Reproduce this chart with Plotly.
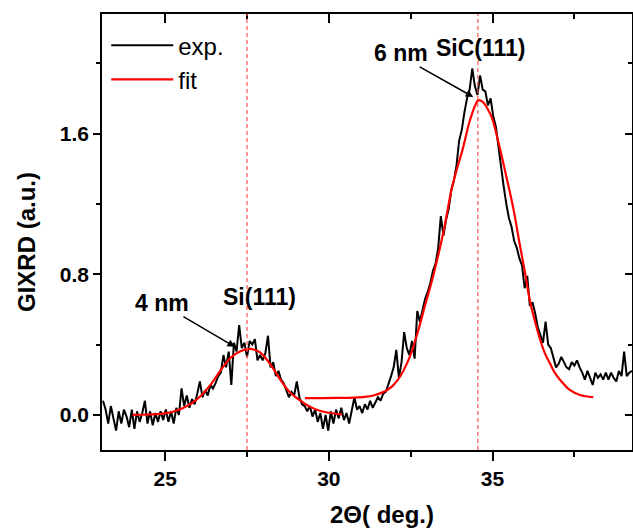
import plotly.graph_objects as go

# ---------------- data ----------------
# experimental scan: start angle, step, intensities (read from picture)
scan_start = 23.10
scan_step = 0.08
exp_intensity = [
    0.08, 0.03, -0.05, 0.05, -0.02, -0.09, 0.02, -0.05, 0.03, -0.01,
    -0.07, 0.03, -0.08, 0.02, -0.04, 0.01, 0.08, -0.05, 0.02, -0.06,
    0.01, -0.04, 0.02, -0.03, 0.03, -0.04, 0.02, -0.05, 0.04, 0.00,
    0.15, 0.05, 0.11, 0.04, 0.09, 0.06, 0.12, 0.19, 0.10, 0.14,
    0.11, 0.17, 0.15, 0.18, 0.22, 0.24, 0.34, 0.27, 0.36, 0.17,
    0.41, 0.36, 0.51, 0.38, 0.41, 0.33, 0.42, 0.40, 0.43, 0.31,
    0.34, 0.31, 0.35, 0.45, 0.27, 0.30, 0.22, 0.25, 0.20, 0.18,
    0.14, 0.10, 0.13, 0.11, 0.19, 0.10, 0.06, 0.05, 0.02, 0.05,
    -0.01, 0.03, -0.04, 0.01, -0.08, 0.00, -0.09, 0.02, -0.05, 0.03,
    -0.02, 0.04, -0.03, 0.01, -0.05, 0.02, 0.10, 0.03, 0.05, 0.01,
    0.06, 0.03, 0.08, 0.04, 0.07, 0.10, 0.08, 0.12, 0.13, 0.17,
    0.22, 0.27, 0.37, 0.21, 0.30, 0.47, 0.38, 0.34, 0.42, 0.32,
    0.59, 0.53, 0.60, 0.66, 0.70, 0.75, 0.82, 0.86, 0.95, 1.13,
    1.02, 1.11, 1.17, 1.28, 1.33, 1.42, 1.56, 1.62, 1.72, 1.80,
    1.85, 1.97, 1.87, 1.82, 1.93, 1.85, 1.84, 1.76, 1.80, 1.70,
    1.64, 1.52, 1.42, 1.30, 1.20, 1.12, 1.07, 0.99, 0.95, 0.89,
    0.85, 0.72, 0.79, 0.62, 0.64, 0.58, 0.50, 0.45, 0.41, 0.53,
    0.40, 0.38, 0.33, 0.27, 0.29, 0.33, 0.30, 0.27, 0.26, 0.30,
    0.28, 0.31, 0.27, 0.24, 0.20, 0.25, 0.21, 0.17, 0.24, 0.21,
    0.23, 0.20, 0.24, 0.20, 0.24, 0.21, 0.19, 0.25, 0.22, 0.36,
    0.22, 0.24, 0.25,
]
exp_angle = [round(scan_start + scan_step * i, 2) for i in range(len(exp_intensity))]

# Si(111) fit curve
fit_si_angle = [24.0, 24.5, 25.0, 25.5, 25.8, 26.1, 26.4, 26.7, 27.0, 27.3,
                27.6, 27.9, 28.2, 28.5, 28.8, 29.1, 29.4, 29.7, 30.0, 30.4]
fit_si_value = [0.0, 0.002, 0.008, 0.035, 0.065, 0.11, 0.175, 0.255, 0.325, 0.362,
                0.375, 0.355, 0.29, 0.205, 0.13, 0.085, 0.048, 0.025, 0.012, 0.003]

# SiC(111) fit curve
fit_sic_angle = [29.27, 29.8, 30.3, 30.75, 31.1, 31.36, 31.6, 31.77, 31.95, 32.07,
                 32.2, 32.38, 32.55, 32.73, 32.95, 33.2, 33.5, 33.77, 34.1, 34.3,
                 34.47, 34.57, 34.7, 34.85, 34.98, 35.18, 35.44, 35.64, 35.84, 36.0,
                 36.15, 36.3, 36.45, 36.6, 36.76, 36.9, 37.06, 37.37, 37.67, 38.08]
fit_sic_value = [0.095, 0.095, 0.096, 0.098, 0.102, 0.11, 0.125, 0.14, 0.165, 0.19,
                 0.225, 0.29, 0.37, 0.48, 0.63, 0.80, 1.04, 1.30, 1.52, 1.67,
                 1.76, 1.79, 1.78, 1.74, 1.69, 1.55, 1.34, 1.17, 0.96, 0.80,
                 0.64, 0.53, 0.43, 0.35, 0.29, 0.24, 0.20, 0.14, 0.113, 0.10]

peak_positions = [27.5, 34.55]

x_ticks = [25, 30, 35]
x_minor = [27.5, 32.5, 37.5]
y_ticks = [0.0, 0.8, 1.6]
y_minor = [0.4, 1.2, 2.0]
y_tick_text = ["0.0", "0.8", "1.6"]

FONT = "Liberation Sans, Arial, sans-serif"

fig = go.Figure()
fig.add_trace(go.Scatter(x=exp_angle, y=exp_intensity, mode="lines", name="exp.",
                         line=dict(color="black", width=2)))
fig.add_trace(go.Scatter(x=fit_si_angle, y=fit_si_value, mode="lines", name="fit",
                         line=dict(color="#ff0000", width=2.2, shape="spline")))
fig.add_trace(go.Scatter(x=fit_sic_angle, y=fit_sic_value, mode="lines", name="fit",
                         showlegend=False,
                         line=dict(color="#ff0000", width=2.2, shape="spline")))
# helper trace for mirrored top/right axes
fig.add_trace(go.Scatter(x=[None], y=[None], xaxis="x2", yaxis="y2", showlegend=False,
                         hoverinfo="skip"))

for p in peak_positions:
    fig.add_shape(type="line", x0=p, x1=p, y0=0, y1=1, xref="x", yref="paper",
                  line=dict(color="rgba(255,80,80,0.8)", width=1.5, dash="4px,3px"))

tickfont = dict(family=FONT, size=21, color="black", weight="bold")

fig.update_layout(
    width=633, height=529,
    margin=dict(l=102, r=1, t=14, b=79, autoexpand=False),
    paper_bgcolor="white", plot_bgcolor="white",
    showlegend=True,
    legend=dict(x=0.008, y=0.979, xanchor="left", yanchor="top",
                font=dict(family=FONT, size=24, color="black"),
                bgcolor="rgba(0,0,0,0)", itemwidth=62, tracegroupgap=0),
    xaxis=dict(range=[23.07, 39.26], tickvals=x_ticks, ticks="outside", ticklen=9,
               tickwidth=1.5, showline=True, linecolor="black", linewidth=1.5,
               showgrid=False, zeroline=False, tickfont=tickfont, automargin=False,
               minor=dict(tickvals=x_minor, ticks="outside", ticklen=5,
                          tickwidth=1.5, tickcolor="black"),
               tickcolor="black"),
    yaxis=dict(range=[-0.2, 2.28], tickvals=y_ticks, ticktext=y_tick_text, ticks="outside",
               ticklen=7, tickwidth=1.5, showline=True, linecolor="black", linewidth=1.5,
               showgrid=False, zeroline=False, tickfont=tickfont, tickcolor="black",
               automargin=False,
               minor=dict(tickvals=y_minor, ticks="outside", ticklen=4,
                          tickwidth=1.5, tickcolor="black")),
    xaxis2=dict(overlaying="x", matches="x", side="top", anchor="y2", tickvals=x_ticks,
                ticks="inside", ticklen=9, tickwidth=1.5, tickcolor="black",
                showticklabels=False, showline=True, linecolor="black", linewidth=1.5,
                showgrid=False, zeroline=False, automargin=False,
                minor=dict(tickvals=x_minor, ticks="inside", ticklen=5,
                           tickwidth=1.5, tickcolor="black")),
    yaxis2=dict(overlaying="y", matches="y", side="right", anchor="x2", tickvals=y_ticks,
                ticks="inside", ticklen=7, tickwidth=1.5, tickcolor="black",
                showticklabels=False, showline=True, linecolor="black", linewidth=1.5,
                showgrid=False, zeroline=False, automargin=False,
                minor=dict(tickvals=y_minor, ticks="inside", ticklen=4,
                           tickwidth=1.5, tickcolor="black")),
)

labfont = dict(family=FONT, size=23, color="black", weight="bold")
titlefont = dict(family=FONT, size=24, color="black", weight="bold")
# axis titles
fig.add_annotation(text="2Θ( deg.)", xref="paper", yref="paper", x=(381.7 - 102) / 530,
                   y=-(514 - 450) / 436, showarrow=False, font=titlefont,
                   xanchor="center", yanchor="middle")
fig.add_annotation(text="GIXRD (a.u.)", xref="paper", yref="paper", x=-(102 - 26) / 530,
                   y=(450 - 242) / 436, showarrow=False, textangle=-90, font=titlefont,
                   xanchor="center", yanchor="middle")

# peak labels
fig.add_annotation(text="SiC(111)", x=34.66, y=2.086, showarrow=False, font=labfont)
fig.add_annotation(text="6 nm", x=32.2, y=2.058, showarrow=False, font=labfont)
fig.add_annotation(text="Si(111)", x=27.87, y=0.671, showarrow=False, font=labfont)
fig.add_annotation(text="4 nm", x=24.9, y=0.637, showarrow=False, font=labfont)
# arrows
fig.add_annotation(text="", x=34.41, y=1.808, ax=-55, ay=-31, showarrow=True,
                   arrowhead=2, arrowsize=1, arrowwidth=1.5, arrowcolor="black")
fig.add_annotation(text="", x=27.13, y=0.387, ax=-53, ay=-31, showarrow=True,
                   arrowhead=2, arrowsize=1, arrowwidth=1.5, arrowcolor="black")

fig.write_html("out.html", config={"displayModeBar": False},
               post_script="document.body.style.margin='0';")
